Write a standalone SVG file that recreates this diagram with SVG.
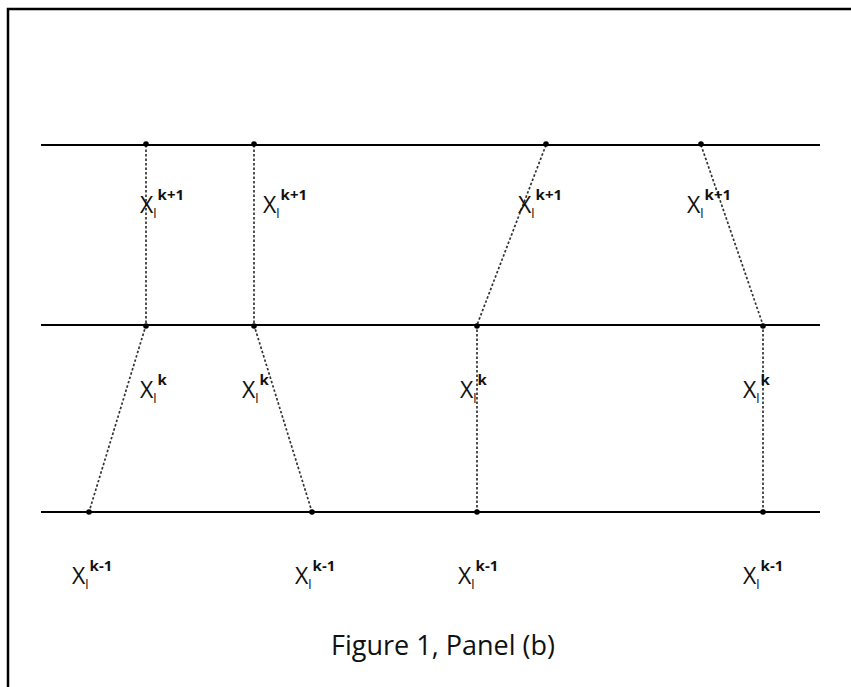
<svg xmlns="http://www.w3.org/2000/svg" width="851" height="687" viewBox="0 0 851 687">
<style>
.ax{stroke:#000;stroke-width:2;fill:none}
.c{stroke:#333;stroke-width:1.7;stroke-dasharray:2.5 2;fill:none}
.dot{fill:#000}
.lb{font-family:"Open Sans","Liberation Sans",sans-serif;font-size:23px;fill:#111}
.sp{font-size:15px;font-weight:bold}
.sb{font-size:13px}
.cap{font-family:"Open Sans","Liberation Sans",sans-serif;font-size:27px;fill:#111}
</style>
<rect x="0" y="0" width="851" height="687" fill="#fff"/>
<path d="M8,700 V9 H860" stroke="#000" stroke-width="2.5" fill="none"/>
<g id="axes">
<line class="ax" x1="41" y1="145" x2="820" y2="145"/>
<line class="ax" x1="41" y1="325" x2="820" y2="325"/>
<line class="ax" x1="41" y1="512" x2="820" y2="512"/>
</g>
<g id="connectors">
<line class="c" x1="146" y1="145" x2="146" y2="325"/>
<line class="c" x1="254" y1="145" x2="254" y2="325"/>
<line class="c" x1="546" y1="145" x2="477" y2="325"/>
<line class="c" x1="701" y1="145" x2="763" y2="325"/>
<line class="c" x1="146" y1="325" x2="89" y2="512"/>
<line class="c" x1="254" y1="325" x2="312" y2="512"/>
<line class="c" x1="477" y1="325" x2="477" y2="512"/>
<line class="c" x1="763" y1="325" x2="763" y2="512"/>
</g>
<g id="dots">
<circle class="dot" cx="146" cy="144" r="2.8"/>
<circle class="dot" cx="254" cy="144" r="2.8"/>
<circle class="dot" cx="546" cy="144" r="2.8"/>
<circle class="dot" cx="701" cy="144" r="2.8"/>
<circle class="dot" cx="146" cy="326" r="2.8"/>
<circle class="dot" cx="254" cy="326" r="2.8"/>
<circle class="dot" cx="477" cy="326" r="2.8"/>
<circle class="dot" cx="763" cy="326" r="2.8"/>
<circle class="dot" cx="89" cy="512" r="2.8"/>
<circle class="dot" cx="312" cy="512" r="2.8"/>
<circle class="dot" cx="477" cy="512" r="2.8"/>
<circle class="dot" cx="763" cy="512" r="2.8"/>
</g>
<g id="labels-top">
<text class="lb" x="140" y="213">X<tspan class="sb" dy="5">l</tspan><tspan class="sp" dx="1" dy="-18">k+1</tspan></text>
<text class="lb" x="263" y="213">X<tspan class="sb" dy="5">l</tspan><tspan class="sp" dx="1" dy="-18">k+1</tspan></text>
<text class="lb" x="518" y="213">X<tspan class="sb" dy="5">l</tspan><tspan class="sp" dx="1" dy="-18">k+1</tspan></text>
<text class="lb" x="687" y="213">X<tspan class="sb" dy="5">l</tspan><tspan class="sp" dx="1" dy="-18">k+1</tspan></text>
</g>
<g id="labels-mid">
<text class="lb" x="140" y="398">X<tspan class="sb" dy="5">l</tspan><tspan class="sp" dx="1" dy="-18">k</tspan></text>
<text class="lb" x="242" y="398">X<tspan class="sb" dy="5">l</tspan><tspan class="sp" dx="1" dy="-18">k</tspan></text>
<text class="lb" x="460" y="398">X<tspan class="sb" dy="5">l</tspan><tspan class="sp" dx="1" dy="-18">k</tspan></text>
<text class="lb" x="743" y="398">X<tspan class="sb" dy="5">l</tspan><tspan class="sp" dx="1" dy="-18">k</tspan></text>
</g>
<g id="labels-bot">
<text class="lb" x="72" y="584">X<tspan class="sb" dy="5">l</tspan><tspan class="sp" dx="1" dy="-18">k-1</tspan></text>
<text class="lb" x="295" y="584">X<tspan class="sb" dy="5">l</tspan><tspan class="sp" dx="1" dy="-18">k-1</tspan></text>
<text class="lb" x="458" y="584">X<tspan class="sb" dy="5">l</tspan><tspan class="sp" dx="1" dy="-18">k-1</tspan></text>
<text class="lb" x="743" y="584">X<tspan class="sb" dy="5">l</tspan><tspan class="sp" dx="1" dy="-18">k-1</tspan></text>
</g>
<text class="cap" x="443" y="655" text-anchor="middle">Figure 1, Panel (b)</text>
</svg>
